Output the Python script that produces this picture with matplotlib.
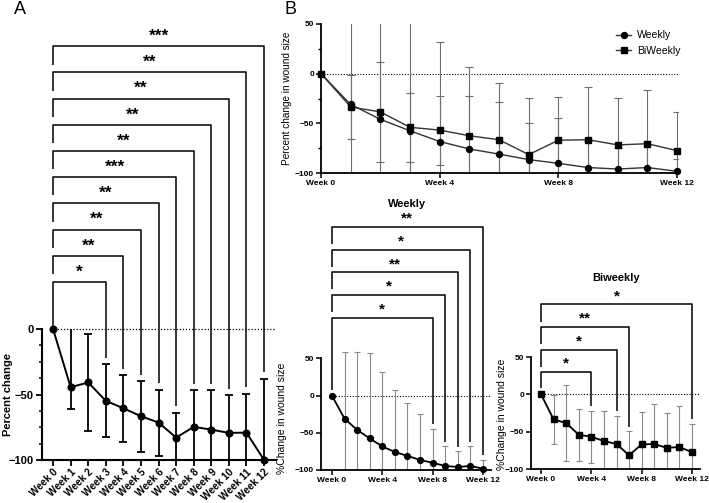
import matplotlib
matplotlib.use("Agg")
import matplotlib.pyplot as plt
import numpy as np
from matplotlib.patches import Rectangle

plt.rcParams['font.family'] = ['Liberation Sans', 'DejaVu Sans']

# ---------------- data ----------------
weeks = list(range(13))
week_labels = [f"Week {w}" for w in weeks]

# Panel A (all patients)
a_mean = [0, -44.4, -40.8, -54.8, -60.5, -66.6, -71.4, -82.9, -74.7, -76.8, -79.3, -79.1, -100]
a_err_lo = [0, 16.8, 37.0, 28.0, 25.7, 27.3, 25.3, 19.1, 28.0, 30.1, 28.8, 29.6, 62.2]
a_err_hi = [0, 50.0, 36.8, 28.0, 25.3, 26.8, 25.2, 19.1, 28.0, 30.1, 28.8, 29.6, 62.2]
a_sig_weeks = [3, 4, 5, 6, 7, 8, 9, 10, 11, 12]
a_sig = ['*', '**', '**', '**', '***', '**', '**', '**', '**', '***']

# Panel B
w_mean = [0, -31, -46, -57.5, -68.3, -75.8, -81, -86.5, -90.3, -94.5, -96, -94.5, -98.3]
w_sd = [0, 90, 105, 115, 100.5, 83, 71.5, 61.7, 45.5, 26.5, 21.6, 26.5, 12.1]
b_mean = [0, -33.5, -38.5, -54, -56.8, -62.5, -66.5, -81.5, -67, -66.5, -71.7, -70.5, -77.5]
b_sd = [0, 32.5, 50.5, 35, 34.8, 40.5, 38, 32, 44, 53.5, 47.2, 54.5, 38.5]
w_sig_weeks = [8, 9, 10, 11, 12]
w_sig = ['*', '*', '**', '*', '**']
b_sig_weeks = [4, 6, 7, 12]
b_sig = ['*', '*', '**', '*']

W, H = 709, 503
fig = plt.figure(figsize=(W / 100, H / 100), dpi=100)


def px_axes(left, top, right, bottom):
    return fig.add_axes([left / W, 1 - bottom / H, (right - left) / W, (bottom - top) / H])


def style_axes(ax, lw):
    for s in ['top', 'right']:
        ax.spines[s].set_visible(False)
    for s in ['left', 'bottom']:
        ax.spines[s].set_linewidth(lw)


def brackets(ax, sig_weeks, sig, mean, up, base, step, left_len, low_left_end,
             gap, star_off, fs, lw):
    for i, (wk, s) in enumerate(zip(sig_weeks, sig)):
        h = base + step * i
        left_end = low_left_end if i == 0 else h - left_len
        right_end = mean[wk] + up[wk] + gap
        ax.plot([0, 0, wk, wk], [left_end, h, h, right_end], color='black',
                lw=lw, clip_on=False, solid_capstyle='butt')
        ax.text(wk / 2, h + star_off, s, ha='center', va='center',
                fontsize=fs, fontweight='bold')


# ---------------- Panel A ----------------
axA = px_axes(42, 20, 276, 460)
style_axes(axA, 1.5)
axA.set_xlim(-0.63, 12.68)
axA.set_ylim(-100, 236)
axA.spines['left'].set_bounds(-100, 0)
axA.axhline(0, color='black', lw=0.9, ls=(0, (1, 1.5)), xmin=0.04)
eb = axA.errorbar(weeks[1:], a_mean[1:], yerr=[a_err_lo[1:], a_err_hi[1:]], fmt='none',
                  ecolor='black', elinewidth=1.3, capsize=3.2, capthick=1.3)
clip_rect = Rectangle((-0.63, -100), 13.31, 100, transform=axA.transData)
for art in list(eb.lines[1]) + list(eb.lines[2]):
    art.set_clip_path(clip_rect)
axA.plot(weeks, a_mean, color='black', lw=1.4, marker='o', ms=4.8, clip_on=False, zorder=4)
brackets(axA, a_sig_weeks, a_sig, a_mean, a_err_hi, 36, 20, 14, 0, 5, 7.5, 12.5, 1.1)
axA.set_xticks(weeks)
axA.set_xticklabels(week_labels, rotation=45, ha='right', rotation_mode='anchor',
                    fontsize=7.2, fontweight='bold')
axA.set_yticks([-100, -50, 0])
axA.set_yticklabels(['\u2212100', '\u221250', '0'], fontsize=8, fontweight='bold')
axA.set_yticks(np.arange(-100, 1, 12.5), minor=True)
axA.tick_params(axis='y', which='major', length=4, width=1.3, pad=2)
axA.tick_params(axis='x', which='major', length=4, width=1.3, pad=1)
axA.tick_params(axis='y', which='minor', length=2.5, width=1.1)
axA.set_ylabel('Percent change', fontsize=8, fontweight='bold')
axA.yaxis.set_label_coords(-0.124, 0.149)

# ---------------- Panel B top ----------------
axB = px_axes(321, 24, 678, 173)
style_axes(axB, 1.3)
axB.set_xlim(0, 12.03)
axB.set_ylim(-100, 50)
axB.axhline(0, color='black', lw=0.8, ls=(0, (1, 1.5)))
axB.errorbar(weeks[1:], w_mean[1:], yerr=w_sd[1:], fmt='none', ecolor='#6e6e6e',
             elinewidth=0.8, capsize=3, capthick=0.8)
axB.errorbar(weeks[1:], b_mean[1:], yerr=b_sd[1:], fmt='none', ecolor='#6e6e6e',
             elinewidth=0.8, capsize=3, capthick=0.8)
axB.plot(weeks, w_mean, color='#333333', lw=1.0, marker='o', ms=4.3, mfc='black',
         mec='black', clip_on=False, zorder=4, label='Weekly')
axB.plot(weeks, b_mean, color='#333333', lw=1.0, marker='s', ms=4.6, mfc='black',
         mec='black', clip_on=False, zorder=4, label='BiWeekly')
axB.set_xticks([0, 4, 8, 12])
axB.set_xticklabels([week_labels[i] for i in [0, 4, 8, 12]], fontsize=6, fontweight='bold')
axB.set_yticks([-100, -50, 0, 50])
axB.set_yticklabels(['\u2212100', '\u221250', '0', '50'], fontsize=6, fontweight='bold')
axB.set_yticks([-75, -25, 25], minor=True)
axB.tick_params(axis='both', which='major', length=3.5, width=1.1, pad=1.5)
axB.tick_params(axis='y', which='minor', length=2, width=1.0)
axB.set_ylabel('Percent change in wound size', fontsize=7.2)
axB.yaxis.set_label_coords(-0.081, 0.5)
axB.legend(loc='upper left', bbox_to_anchor=(611 / W, 1 - 25 / H),
           bbox_transform=fig.transFigure, frameon=False, fontsize=7.5,
           handlelength=1.4, handletextpad=0.6, labelspacing=0.55, borderpad=0)


def small_panel(ax, mean, sd, marker, ms, sig_weeks, sig, base, step, label_xy):
    style_axes(ax, 1.3)
    ax.spines['left'].set_bounds(-100, 50)
    ax.axhline(0, color='black', lw=0.8, ls=(0, (1, 1.5)), xmin=0.05)
    ax.errorbar(weeks[1:], mean[1:], yerr=sd[1:], fmt='none', ecolor='#8a8a8a',
                elinewidth=0.8, capsize=2.5, capthick=0.8)
    ax.plot(weeks, mean, color='black', lw=1.3, marker=marker, ms=ms, clip_on=False, zorder=4)
    brackets(ax, sig_weeks, sig, mean, sd, base, step, 23, 8, 6, 11, 11, 1.1)
    ax.set_xticks([0, 4, 8, 12])
    ax.set_xticklabels([week_labels[i] for i in [0, 4, 8, 12]], fontsize=6, fontweight='bold')
    ax.set_yticks([-100, -50, 0, 50])
    ax.set_yticklabels(['\u2212100', '\u221250', '0', '50'], fontsize=6, fontweight='bold')
    ax.tick_params(axis='both', which='major', length=3.5, width=1.1, pad=1.5)
    ax.set_ylabel('%Change in wound size', fontsize=7.5)
    ax.yaxis.set_label_coords(*label_xy)


# ---------------- Panel B bottom-left (Weekly) ----------------
axW = px_axes(321, 212, 491, 470)
axW.set_xlim(-0.87, 12.64)
axW.set_ylim(-100, 247)
small_panel(axW, w_mean, w_sd, 'o', 4.2, w_sig_weeks, w_sig, 105, 30.5, (-0.2, 0.2016))

# ---------------- Panel B bottom-right (Biweekly) ----------------
axBW = px_axes(531, 290, 700, 469)
axBW.set_xlim(-0.8, 12.64)
axBW.set_ylim(-100, 140)
small_panel(axBW, b_mean, b_sd, 's', 4.5, b_sig_weeks, b_sig, 30, 30.2, (-0.142, 0.303))

# titles and panel letters
fig.text(407 / W, 1 - 204 / H, 'Weekly', ha='center', va='center', fontsize=8, fontweight='bold')
fig.text(616 / W, 1 - 278 / H, 'Biweekly', ha='center', va='center', fontsize=8, fontweight='bold')
fig.text(20 / W, 1 - 10 / H, 'A', ha='center', va='center', fontsize=13)
fig.text(290 / W, 1 - 10 / H, 'B', ha='center', va='center', fontsize=13)

fig.savefig('out.png', dpi=100)
